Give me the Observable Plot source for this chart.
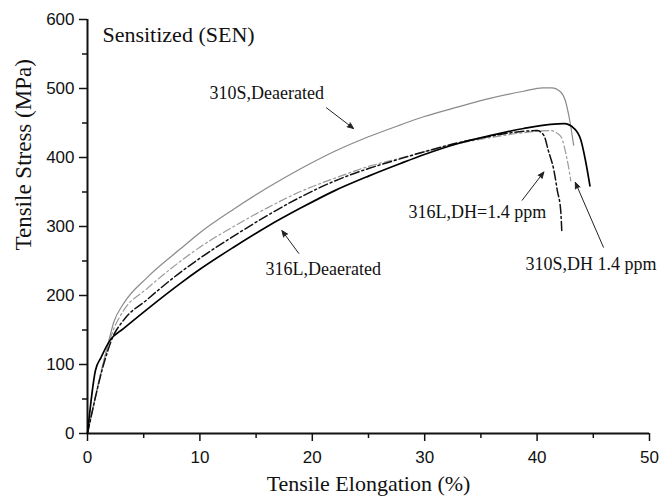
<!DOCTYPE html>
<html><head><meta charset="utf-8">
<script src="https://cdn.jsdelivr.net/npm/d3@7"></script>
<script src="https://cdn.jsdelivr.net/npm/@observablehq/plot@0.6"></script>
<style>body{margin:0;background:#fff}</style>
</head><body><div id="chart"></div>
<script>
// --- data ---
const elong316LDea  = [0, 0.7, 1.2, 2.0, 3.2, 5.3, 8.3, 10.0, 13.0, 16.0, 19.0, 22.0, 25.0, 27.8, 29.9, 32.9, 35.9, 38.8, 41.2, 42.4, 43.3, 43.9, 44.3, 44.7];
const stress316LDea = [0, 91, 110, 135, 152, 180, 218, 238, 270, 300, 327, 352, 373, 391, 404, 420, 432, 442, 448, 449, 442, 425, 396, 359];

const elong310SDea  = [0, 1.8, 2.35, 3.2, 5.3, 8.3, 10.0, 13.0, 16.0, 19.0, 22.0, 25.0, 27.8, 29.9, 32.9, 35.9, 38.8, 40.5, 41.3, 42.1, 42.5, 42.9, 43.25];
const stress310SDea = [0, 128, 162, 188, 226, 268, 291, 325, 356, 384, 409, 430, 447, 459, 473, 486, 496, 501, 501, 495, 483, 454, 418];

const elong316LDH   = [0, 1.45, 2.2, 3.2, 5.3, 8.3, 10.0, 13.0, 16.0, 19.0, 22.0, 25.0, 27.8, 29.9, 32.9, 35.9, 38.8, 40.0, 40.6, 41.0, 41.5, 41.8, 42.1, 42.2];
const stress316LDH  = [0, 101, 138, 164, 194, 234, 254, 286, 316, 343, 366, 384, 398, 408, 421, 431, 438, 439, 432, 410, 381, 352, 323, 292];

const elong310SDH   = [0, 1.7, 2.3, 3.2, 5.3, 8.3, 10.0, 13.0, 16.0, 19.0, 22.0, 25.0, 27.8, 29.9, 32.9, 35.9, 38.8, 41.2, 41.8, 42.2, 42.5, 42.8, 43.0];
const stress310SDH  = [0, 120, 150, 178, 210, 250, 270, 300, 327, 351, 370, 387, 399, 408, 420, 429, 436, 439, 435, 428, 410, 386, 366];

const xTicks = [0, 10, 20, 30, 40, 50];
const xMinorTicks = [5, 15, 25, 35, 45];
const yTicks = [0, 100, 200, 300, 400, 500, 600];
const yMinorTicks = [50, 150, 250, 350, 450, 550];

const xTitle = "Tensile Elongation (%)";
const yTitle = "Tensile Stress (MPa)";
const panelTitle = "Sensitized (SEN)";

const annotLabels = ["310S,Deaerated", "316L,Deaerated", "316L,DH=1.4 ppm", "310S,DH 1.4 ppm"];
const annotX = [10.85, 15.84, 28.56, 38.97];
const annotY = [493, 238, 320, 245];

const arrowFromX = [21.26, 18.8, 38.67, 45.9];
const arrowFromY = [472, 261, 338, 270];
const arrowToX   = [23.67, 17.3, 40.6, 43.4];
const arrowToY   = [442, 294, 379, 364];

// --- build tables ---
const toRows = (xs, ys) => xs.map((x, i) => ({x, y: ys[i]}));
const s316LDea = toRows(elong316LDea, stress316LDea);
const s310SDea = toRows(elong310SDea, stress310SDea);
const s316LDH = toRows(elong316LDH, stress316LDH);
const s310SDH = toRows(elong310SDH, stress310SDH);
const annots = annotLabels.map((t, i) => ({t, x: annotX[i], y: annotY[i]}));
const arrows = arrowFromX.map((x1, i) => ({x1, y1: arrowFromY[i], x2: arrowToX[i], y2: arrowToY[i]}));

const sans = "'Liberation Sans', Arial, sans-serif";
const serif = "'Liberation Serif', 'Times New Roman', serif";

const chart = Plot.plot({
  width: 670, height: 501,
  marginLeft: 87, marginRight: 21, marginTop: 19, marginBottom: 68,
  x: {domain: [0, 50], label: null},
  y: {domain: [0, 600], label: null},
  style: {background: "#fff", color: "#111", overflow: "visible"},
  marks: [
    Plot.axisX({ticks: xMinorTicks, tickSize: 5, tickFormat: () => "", strokeWidth: 1.5, label: null}),
    Plot.axisX({ticks: xTicks, tickSize: 8, tickPadding: 9, fontSize: 17, fontFamily: sans, strokeWidth: 1.5, label: null}),
    Plot.axisY({ticks: yMinorTicks, tickSize: 5, tickFormat: () => "", strokeWidth: 1.5, label: null}),
    Plot.axisY({ticks: yTicks, tickSize: 8, tickPadding: 5, fontSize: 17, fontFamily: sans, strokeWidth: 1.5, label: null}),
    Plot.ruleY([0], {stroke: "#111", strokeWidth: 2}),
    Plot.ruleX([0], {stroke: "#111", strokeWidth: 2}),
    Plot.line(s310SDea, {x: "x", y: "y", stroke: "#8a8a8a", strokeWidth: 1.2, curve: "monotone-x"}),
    Plot.line(s310SDH, {x: "x", y: "y", stroke: "#9a9a9a", strokeWidth: 1.2, strokeDasharray: "8,3,2,3", curve: "monotone-x"}),
    Plot.line(s316LDH, {x: "x", y: "y", stroke: "#111", strokeWidth: 1.5, strokeDasharray: "9,3,2,3", curve: "monotone-x"}),
    Plot.line(s316LDea, {x: "x", y: "y", stroke: "#000", strokeWidth: 1.7, curve: "monotone-x"}),
    Plot.arrow(arrows, {x1: "x1", y1: "y1", x2: "x2", y2: "y2", stroke: "#222", strokeWidth: 1, headLength: 10, headAngle: 45}),
    Plot.text(annots, {x: "x", y: "y", text: "t", textAnchor: "start", fontSize: 18, fontFamily: serif, fill: "#111"}),
    Plot.text([panelTitle], {x: () => 1.33, y: () => 577, text: d => d, textAnchor: "start", fontSize: 22, fontFamily: serif, fill: "#111"}),
    Plot.text([xTitle], {text: d => d, frameAnchor: "bottom", dy: 57, fontSize: 22, fontFamily: serif, fill: "#111"}),
    Plot.text([yTitle], {text: d => d, frameAnchor: "left", rotate: -90, dx: -64, dy: 24, fontSize: 23, fontFamily: serif, fill: "#111"})
  ]
});
d3.select(chart).selectAll('g[aria-label="arrow"] path').attr("fill", "#222");
document.getElementById("chart").appendChild(chart);
</script>
</body></html>
